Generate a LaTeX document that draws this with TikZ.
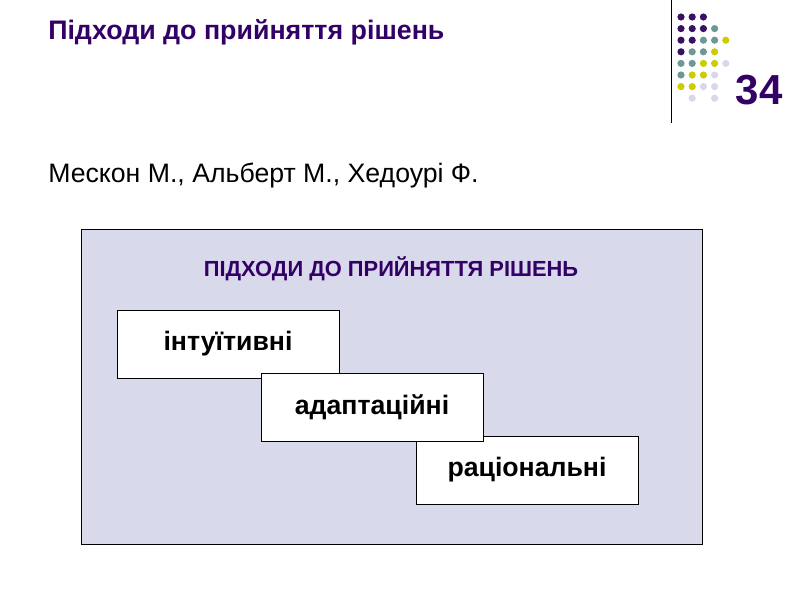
\documentclass[tikz,border=0pt]{standalone}
\usepackage{fontspec}
\setmainfont{Liberation Sans}
\usepackage{tikz}
\usetikzlibrary{positioning}

\definecolor{slidepurple}{RGB}{51,0,102}
\definecolor{dotpurple}{RGB}{58,16,98}
\definecolor{dotteal}{RGB}{110,152,152}
\definecolor{dotyellow}{RGB}{204,204,0}
\definecolor{dotlilac}{RGB}{216,216,236}
\definecolor{framefill}{RGB}{217,217,236}

\begin{document}
\begin{tikzpicture}[x=0.75pt, y=-0.75pt,
slidetitle/.style={anchor=base west, inner sep=0pt, text=slidepurple, font=\bfseries\fontsize{20.1}{23}\selectfont},
slidetext/.style={anchor=base west, inner sep=0pt, font=\fontsize{20}{23}\selectfont},
framebox/.style={rectangle, draw=black, fill=framefill, line width=0.6pt, minimum width=465.75pt, minimum height=236.25pt},
framehead/.style={text=slidepurple, inner sep=0pt, font=\bfseries\fontsize{16.4}{19}\selectfont},
approachbox/.style={rectangle, draw=black, fill=white, line width=0.6pt, minimum width=166.5pt, minimum height=51pt, inner sep=0pt, font=\bfseries\fontsize{20}{23}\selectfont},
]
\useasboundingbox (0,0) rectangle (800,600);

%Corner
\draw[line width=0.6pt] (671,0) -- (671,123);
\foreach \c/\r/\col in {0/0/dotpurple,1/0/dotpurple,2/0/dotpurple,
  0/1/dotpurple,1/1/dotpurple,2/1/dotpurple,3/1/dotteal,
  0/2/dotpurple,1/2/dotpurple,2/2/dotteal,3/2/dotteal,4/2/dotyellow,
  0/3/dotpurple,1/3/dotteal,2/3/dotteal,3/3/dotyellow,
  0/4/dotteal,1/4/dotteal,2/4/dotyellow,3/4/dotyellow,4/4/dotlilac,
  0/5/dotteal,1/5/dotyellow,2/5/dotyellow,3/5/dotlilac,
  0/6/dotyellow,1/6/dotyellow,2/6/dotlilac,3/6/dotlilac,
  1/7/dotlilac,3/7/dotlilac}
  \fill[\col] (681+11.2*\c, 17+11.6*\r) circle (2.7pt);
\node[text=slidepurple, inner sep=0pt, font=\bfseries\fontsize{31.5}{36}\selectfont] (pagenum) at (759,90) {34};

%Nodes
\node[slidetitle] (title) at (48,39) {Підходи до прийняття рішень};
\node[slidetext]  (authors) at (48,182) {Мескон М., Альберт М., Хедоурі Ф.};
\node[framebox]   (frame) at (391.5,386.5) {};
\node[framehead]  (head) at (391,269) {ПІДХОДИ ДО ПРИЙНЯТТЯ РІШЕНЬ};
\node[approachbox] (intuit) at (228,344) {інтуїтивні};
\node[approachbox] (ration) at (527,470) {раціональні};
\node[approachbox] (adapt)  at (372,407) {адаптаційні};
\end{tikzpicture}
\end{document}
